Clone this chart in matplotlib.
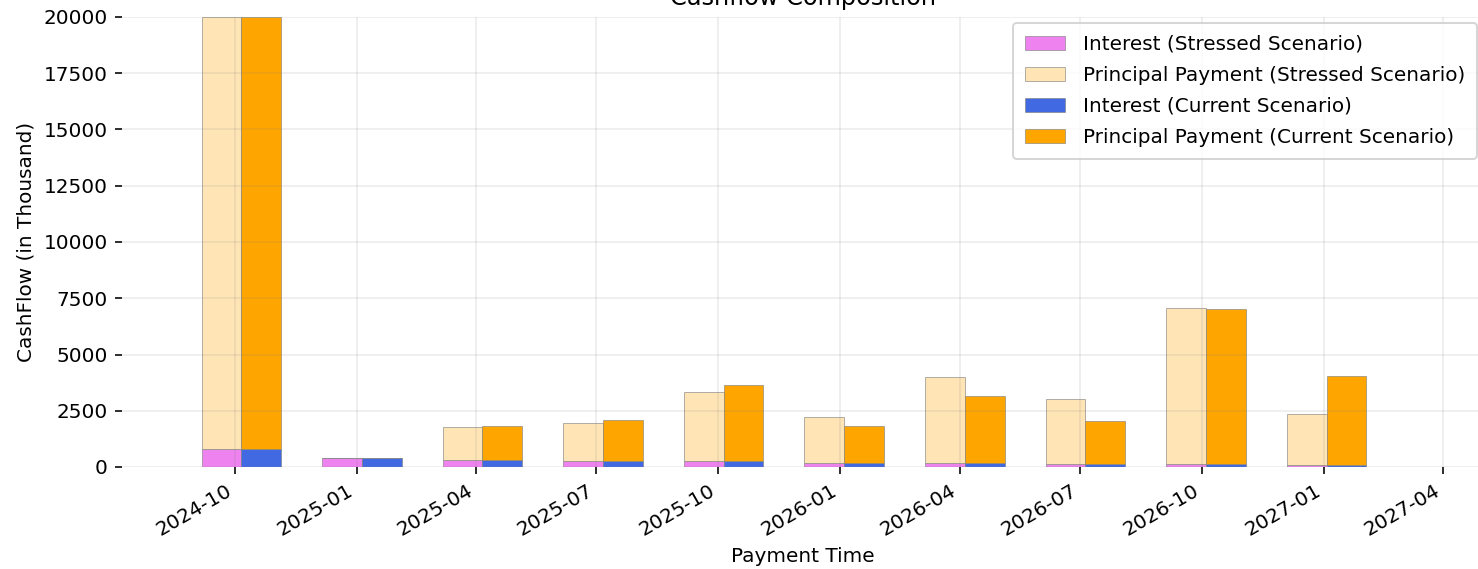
import matplotlib
matplotlib.use("Agg")
import matplotlib.dates as mdates
import matplotlib.pyplot as plt
import matplotlib.ticker as mticker
import pandas as pd

# payment dates (quarterly, 91-day spacing)
pay_dates = ["2024-10-06", "2025-01-05", "2025-04-06", "2025-07-06", "2025-10-05",
             "2026-01-04", "2026-04-05", "2026-07-05", "2026-10-04", "2027-01-03"]

# values in thousand
interest_stressed = [780, 390, 325, 255, 250, 190, 190, 133, 133, 75]
principal_stressed = [19220, 0, 1440, 1715, 3080, 2030, 3795, 2877, 6917, 2265]
interest_current = [780, 390, 325, 255, 250, 190, 190, 133, 133, 75]
principal_current = [19220, 0, 1510, 1845, 3410, 1645, 2950, 1897, 6877, 3985]

BAR_DAYS = 30

fig = plt.figure(figsize=(1478 / 144, 569 / 144), dpi=144)
ax = fig.add_axes([122 / 1478, 1 - 467 / 569, (1483 - 122) / 1478, (467 - 17) / 569])

x = mdates.date2num(pd.to_datetime(pay_dates))
edge = dict(edgecolor=(0.5, 0.5, 0.5, 0.6), linewidth=0.5)

# stressed bars sit left of the payment date, current bars to the right
ax.bar(x - BAR_DAYS / 2, interest_stressed, width=BAR_DAYS, color="violet",
       label="Interest (Stressed Scenario)", **edge)
ax.bar(x - BAR_DAYS / 2, principal_stressed, width=BAR_DAYS, bottom=interest_stressed,
       color="moccasin", label="Principal Payment (Stressed Scenario)", **edge)
ax.bar(x + BAR_DAYS / 2, interest_current, width=BAR_DAYS, color="royalblue",
       label="Interest (Current Scenario)", **edge)
ax.bar(x + BAR_DAYS / 2, principal_current, width=BAR_DAYS, bottom=interest_current,
       color="orange", label="Principal Payment (Current Scenario)", **edge)

ax.xaxis_date()
ax.xaxis.set_major_locator(mdates.MonthLocator(bymonth=[1, 4, 7, 10]))
ax.xaxis.set_major_formatter(mdates.DateFormatter("%Y-%m"))
ax.set_xlim(mdates.date2num(pd.Timestamp("2024-07-08")), mdates.date2num(pd.Timestamp("2027-05-01")))
ax.set_ylim(0, 20000)
ax.yaxis.set_major_locator(mticker.MultipleLocator(2500))
plt.setp(ax.get_xticklabels(), rotation=30, ha="right")

for s in ax.spines.values():
    s.set_visible(False)
ax.grid(True, color="grey", alpha=0.12, linewidth=1)
ax.set_axisbelow(False)

ax.set_title("Cashflow Composition")
ax.set_xlabel("Payment Time")
ax.set_ylabel("CashFlow (in Thousand)")
ax.legend(loc="upper right", borderaxespad=0.3, borderpad=0.6, labelspacing=0.6,
          handletextpad=0.9)

fig.savefig("out.png", dpi=144)
